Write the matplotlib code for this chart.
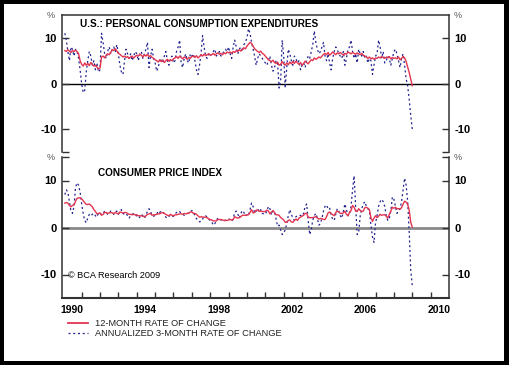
import matplotlib
matplotlib.use('Agg')
import matplotlib.pyplot as plt
import numpy as np
from matplotlib.patches import Rectangle
from matplotlib.lines import Line2D

plt.rcParams['font.family'] = ['Liberation Sans', 'DejaVu Sans']

# Monthly values, Jan 1990 .. Dec 2008
pce_12m = [
    7.2, 7.0, 7.4, 7.1, 6.8, 7.2, 7.0, 7.3, 7.0, 6.5, 5.0, 4.2,   # 1990
    3.8, 4.5, 4.0, 4.4, 3.9, 4.6, 4.2, 3.8, 4.0, 3.6, 3.2, 3.4,   # 1991
    5.8, 6.0, 5.6, 6.2, 6.5, 6.3, 6.8, 7.4, 7.2, 7.6, 7.1, 6.6,   # 1992
    6.4, 6.1, 5.8, 6.0, 5.7, 5.9, 5.5, 5.8, 6.0, 5.6, 5.9, 6.2,   # 1993
    6.0, 6.4, 6.2, 5.8, 6.3, 6.0, 6.4, 5.9, 6.1, 5.7, 5.5, 5.2,   # 1994
    5.0, 4.7, 5.2, 4.8, 5.1, 4.6, 5.0, 5.3, 4.9, 5.2, 5.0, 5.4,   # 1995
    5.6, 5.9, 5.5, 6.0, 5.7, 5.4, 5.8, 5.6, 5.3, 5.7, 5.5, 5.9,   # 1996
    6.0, 5.7, 6.1, 5.6, 5.9, 6.3, 6.0, 6.4, 6.1, 6.3, 6.5, 6.2,   # 1997
    6.3, 6.6, 6.2, 6.5, 6.7, 6.4, 6.6, 6.3, 6.7, 6.5, 6.9, 6.7,   # 1998
    6.9, 6.6, 7.0, 6.8, 7.2, 7.0, 7.4, 7.1, 7.5, 7.8, 7.6, 8.2,   # 1999
    8.6, 9.0, 8.8, 8.2, 7.6, 7.3, 7.0, 6.8, 7.1, 6.6, 6.4, 6.0,   # 2000
    5.6, 5.2, 5.0, 4.8, 5.1, 4.6, 4.4, 4.7, 4.0, 4.2, 4.8, 4.3,   # 2001
    4.0, 4.5, 4.1, 4.7, 4.3, 4.8, 4.4, 4.9, 4.5, 4.2, 4.6, 4.0,   # 2002
    4.4, 4.9, 4.6, 4.3, 4.8, 5.2, 5.0, 5.6, 5.3, 5.5, 5.8, 5.6,   # 2003
    6.0, 6.4, 6.6, 6.3, 6.8, 6.2, 6.5, 6.9, 6.6, 6.3, 6.7, 6.5,   # 2004
    6.8, 6.5, 6.2, 6.6, 6.4, 6.9, 6.7, 6.5, 6.8, 6.6, 6.4, 6.7,   # 2005
    6.5, 6.3, 6.6, 6.2, 6.0, 5.8, 5.5, 5.8, 5.4, 5.6, 5.3, 5.6,   # 2006
    5.5, 5.8, 5.6, 5.9, 5.7, 5.5, 5.8, 5.6, 5.9, 5.4, 5.7, 5.5,   # 2007
    5.6, 5.4, 5.8, 5.2, 5.5, 5.9, 5.6, 4.8, 3.6, 2.4, 1.0, -0.5,  # 2008
]
pce_3m = [
    11.0, 9.5, 7.0, 5.0, 8.0, 7.5, 6.0, 7.5, 7.0, 5.5, 3.0, 0.0,
    -2.0, -1.5, 2.5, 5.0, 7.0, 6.0, 4.0, 5.0, 3.0, 4.5, 2.5, 3.0,
    11.0, 9.0, 6.5, 5.5, 7.0, 8.0, 6.5, 7.5, 8.0, 7.0, 8.5, 6.5,
    4.0, 2.5, 2.0, 5.0, 7.5, 6.5, 5.5, 6.5, 5.0, 6.0, 7.0, 6.5,
    5.0, 6.5, 7.0, 5.5, 6.5, 7.5, 9.0, 3.5, 6.0, 7.5, 5.5, 4.5,
    2.7, 3.5, 5.0, 5.5, 4.5, 6.0, 7.0, 5.0, 4.0, 5.5, 6.0, 4.5,
    5.0, 7.0, 8.0, 9.5, 4.5, 3.5, 5.5, 6.5, 5.0, 4.5, 6.5, 6.0,
    6.5, 5.0, 3.0, 2.0, 4.0, 6.5, 10.5, 8.0, 6.0, 5.5, 6.5, 6.0,
    6.5, 7.0, 7.5, 6.0, 6.5, 7.0, 6.0, 6.5, 7.0, 7.5, 7.0, 8.0,
    6.5, 5.5, 8.0, 9.5, 8.0, 6.5, 7.5, 8.0, 7.0, 8.5, 9.0, 10.0,
    12.0, 11.0, 9.0, 7.5, 6.0, 4.0, 5.5, 6.5, 6.0, 5.5, 5.0, 4.5,
    4.0, 5.0, 6.0, 4.0, 2.7, 3.5, 5.0, 4.5, -1.0, 0.5, 9.5, 6.0,
    -1.0, 3.5, 7.5, 6.5, 5.0, 4.0, 6.0, 5.5, 4.5, 5.0, 3.0, 4.0,
    4.5, 3.5, 5.0, 6.0, 5.5, 7.0, 8.5, 11.5, 9.0, 7.5, 6.5, 7.0,
    8.0, 9.0, 6.0, 5.0, 6.5, 4.5, 3.0, 5.5, 7.0, 8.0, 7.5, 6.5,
    6.0, 5.5, 7.0, 4.0, 5.5, 7.5, 8.0, 9.5, 7.0, 5.5, 6.5, 4.5,
    7.5, 6.5, 6.0, 7.0, 5.5, 6.0, 4.5, 5.5, 5.0, 2.0, 4.0, 6.0,
    6.5, 9.5, 8.0, 5.5, 7.0, 4.5, 5.0, 6.0, 5.5, 4.0, 5.5, 7.0,
    7.5, 6.5, 5.0, 3.5, 5.5, 6.5, 4.0, 1.0, -0.5, -3.5, -7.0, -10.0,
]
cpi_12m = [
    5.2, 5.3, 5.2, 4.7, 4.4, 4.7, 4.8, 5.6, 6.2, 6.3, 6.3, 6.1,
    5.7, 5.3, 4.9, 4.9, 5.0, 4.7, 4.4, 3.8, 3.4, 2.9, 3.0, 3.1,
    2.6, 2.8, 3.2, 3.2, 3.0, 3.1, 3.2, 3.1, 3.0, 3.2, 3.0, 2.9,
    3.3, 3.2, 3.1, 3.2, 3.2, 3.0, 2.8, 2.8, 2.7, 2.8, 2.7, 2.7,
    2.5, 2.5, 2.5, 2.4, 2.3, 2.5, 2.8, 2.9, 3.0, 2.6, 2.7, 2.7,
    2.8, 2.9, 2.9, 3.1, 3.2, 3.0, 2.8, 2.6, 2.5, 2.8, 2.6, 2.5,
    2.7, 2.7, 2.8, 2.9, 2.9, 2.8, 3.0, 2.9, 3.0, 3.0, 3.3, 3.3,
    3.0, 3.0, 2.8, 2.5, 2.2, 2.3, 2.2, 2.2, 2.2, 2.1, 1.8, 1.7,
    1.6, 1.4, 1.4, 1.4, 1.7, 1.7, 1.7, 1.6, 1.5, 1.5, 1.5, 1.6,
    1.7, 1.6, 1.7, 2.3, 2.1, 2.0, 2.1, 2.3, 2.6, 2.6, 2.6, 2.7,
    2.7, 3.2, 3.8, 3.1, 3.2, 3.7, 3.7, 3.4, 3.5, 3.4, 3.4, 3.4,
    3.7, 3.5, 2.9, 3.3, 3.6, 3.2, 2.7, 2.7, 2.6, 2.1, 1.9, 1.6,
    1.1, 1.1, 1.5, 1.6, 1.2, 1.1, 1.5, 1.8, 1.5, 2.0, 2.2, 2.4,
    2.6, 3.0, 3.0, 2.2, 2.1, 2.1, 2.1, 2.2, 2.3, 2.0, 1.8, 1.9,
    1.9, 1.7, 1.7, 2.3, 3.1, 3.3, 3.0, 2.7, 2.5, 3.2, 3.5, 3.3,
    3.0, 3.0, 3.1, 3.5, 2.8, 2.5, 3.2, 3.6, 4.7, 4.3, 3.5, 3.4,
    4.0, 3.6, 3.4, 3.5, 4.2, 4.3, 4.1, 3.8, 2.1, 1.3, 2.0, 2.5,
    2.1, 2.4, 2.8, 2.6, 2.7, 2.7, 2.4, 2.0, 2.8, 3.5, 4.3, 4.1,
    4.3, 4.0, 4.0, 3.9, 4.2, 5.0, 5.6, 5.4, 4.9, 3.7, 1.1, 0.1,
]
cpi_3m = [
    7.0, 8.0, 7.5, 5.5, 3.5, 3.0, 4.5, 8.5, 9.5, 9.0, 7.5, 5.0,
    3.0, 1.5, 1.0, 2.0, 2.8, 2.5, 2.8, 3.0, 2.5, 2.2, 3.2, 3.0,
    2.8, 3.0, 3.5, 3.2, 2.8, 3.0, 3.5, 3.2, 2.8, 3.3, 3.5, 2.8,
    3.5, 3.8, 3.0, 2.8, 3.0, 2.5, 2.0, 2.5, 2.8, 3.0, 2.6, 2.5,
    2.0, 2.2, 2.8, 2.5, 2.0, 2.6, 3.5, 4.0, 3.5, 2.5, 2.4, 2.6,
    2.8, 3.5, 3.2, 3.5, 3.4, 2.8, 2.2, 2.0, 2.4, 2.6, 2.3, 2.4,
    2.9, 3.2, 3.5, 3.4, 3.0, 2.8, 2.6, 2.9, 3.0, 3.1, 3.4, 3.6,
    3.2, 2.6, 1.9, 1.5, 1.2, 1.3, 1.8, 2.3, 2.5, 2.2, 1.8, 1.5,
    1.2, 0.5, 0.8, 1.5, 2.0, 1.8, 1.6, 1.7, 1.4, 1.6, 1.7, 1.8,
    1.7, 1.3, 1.9, 3.2, 3.5, 2.9, 2.0, 3.0, 3.6, 3.2, 2.5, 2.7,
    2.5, 3.8, 5.2, 4.5, 3.0, 3.5, 4.0, 3.3, 3.8, 3.0, 2.9, 2.8,
    3.5, 4.5, 4.0, 2.7, 3.5, 3.4, 1.9, 0.3, 0.5, -0.5, -1.5, -1.2,
    -0.5, 0.8, 2.5, 3.8, 2.8, 2.0, 1.5, 2.3, 2.5, 2.5, 2.6, 2.4,
    3.0, 4.5, 5.0, 1.5, -1.5, -0.5, 1.6, 2.5, 3.0, 2.0, 0.5, 0.8,
    2.0, 3.5, 4.5, 4.8, 4.0, 4.2, 2.5, 1.8, 1.5, 2.8, 4.0, 3.5,
    2.5, 2.0, 3.5, 5.0, 3.8, 2.5, 2.8, 4.5, 8.0, 11.0, 4.5, -1.5,
    -1.0, 2.5, 4.0, 5.0, 5.5, 4.5, 4.0, 3.5, 0.5, -2.0, -3.2, 1.0,
    2.5, 4.5, 5.5, 6.0, 5.5, 4.5, 2.5, 1.5, 2.0, 3.5, 6.5, 6.0,
    4.5, 3.0, 3.5, 4.0, 5.5, 8.0, 10.5, 9.0, 5.5, -1.0, -9.0, -12.3,
]
year_labels = ['1990', '1994', '1998', '2002', '2006', '2010']
label_years = [1990, 1994, 1998, 2002, 2006, 2010]
tick_years = list(range(1991, 2011))
y_ticks = [-10, 0, 10]
titles = ['U.S.: PERSONAL CONSUMPTION EXPENDITURES', 'CONSUMER PRICE INDEX']
legend_labels = ['12-MONTH RATE OF CHANGE', 'ANNUALIZED 3-MONTH RATE OF CHANGE']

dates = 1990 + (np.arange(len(pce_12m)) + 1) / 12.0

W, H = 510, 365
RED = '#e3354f'
BLUE = '#22228f'
DOT = (0, (1.6, 2.2))

fig = plt.figure(figsize=(W / 100, H / 100), dpi=100)
fig.patch.set_facecolor('black')
fig.patches.append(Rectangle((4 / W, 1 - 361 / H), 500 / W, 357 / H,
                             transform=fig.transFigure, facecolor='white',
                             edgecolor='none', zorder=-10))

def fx(x):
    return x / W

def fy(y):
    return 1 - y / H

ax1 = fig.add_axes([fx(62), fy(152), 387 / W, 137 / H])
ax2 = fig.add_axes([fx(62), fy(298), 387 / W, 141 / H])

for i, ax in enumerate([ax1, ax2]):
    ax.set_xlim(1989.93, 2011.0)
    ax.set_ylim(-15, 15)
    if i == 0:
        ax.set_yticks([-15] + y_ticks)
        ax.set_yticklabels([''] + [str(v) for v in y_ticks], fontweight='bold', fontsize=8)
        ax.spines['bottom'].set_visible(False)
        ax.tick_params(axis='x', bottom=False, labelbottom=False)
        ax.axhline(0, color='black', lw=1.0, zorder=1)
    else:
        ax.set_yticks(y_ticks + [15])
        ax.set_yticklabels([str(v) for v in y_ticks] + [''], fontweight='bold', fontsize=8)
        ax.spines['top'].set_visible(False)
        ax.axhline(0, color='#8a8a8a', lw=2.0, zorder=1)
        ax.set_xticks(tick_years)
        ax.set_xticklabels([''] * len(tick_years))
        ax.set_xticks([y + 0.45 for y in label_years], minor=True)
        ax.set_xticklabels(year_labels, minor=True, fontweight='bold', fontsize=7.5)
        ax.tick_params(axis='x', which='major', direction='in', length=4, width=1, color='#333333')
        ax.tick_params(axis='x', which='minor', length=0, pad=5)
    ax.tick_params(axis='y', direction='in', length=5, width=1, left=True, right=True,
                   labelleft=True, labelright=True, pad=4, color='#333333')
    for s in ['left', 'right', 'top', 'bottom']:
        ax.spines[s].set_color('#333333')
        ax.spines[s].set_linewidth(1.1)
    ax.spines['bottom'].set_linewidth(1.5)

ax1.plot(dates, pce_3m, color=BLUE, lw=0.9, ls=DOT, zorder=2)
ax1.plot(dates, pce_12m, color=RED, lw=1.0, zorder=3)
ax2.plot(dates, cpi_3m, color=BLUE, lw=0.9, ls=DOT, zorder=2)
ax2.plot(dates, cpi_12m, color=RED, lw=1.0, zorder=3)

fig.text(fx(80), fy(24), titles[0], fontsize=7.2, fontweight='bold', va='center', ha='left')
fig.text(fx(98), fy(173), titles[1], fontsize=7.2, fontweight='bold', va='center', ha='left')
fig.text(fx(68), fy(276), '\u00a9 BCA Research 2009', fontsize=6.6, va='center', ha='left')

for y in (15, 157):
    fig.text(fx(51), fy(y), '%', fontsize=6.5, color='#555555', va='center', ha='center')
    fig.text(fx(458), fy(y), '%', fontsize=6.5, color='#555555', va='center', ha='center')

fig.add_artist(Line2D([fx(68), fx(88)], [fy(323), fy(323)], color=RED, lw=1.3))
fig.add_artist(Line2D([fx(68), fx(88)], [fy(333), fy(333)], color=BLUE, lw=0.9, ls=DOT))
fig.text(fx(95), fy(323), legend_labels[0], fontsize=6.7, color='#222222', va='center', ha='left')
fig.text(fx(95), fy(333), legend_labels[1], fontsize=6.7, color='#222222', va='center', ha='left')

fig.savefig('out.png', dpi=100, facecolor=fig.get_facecolor())
